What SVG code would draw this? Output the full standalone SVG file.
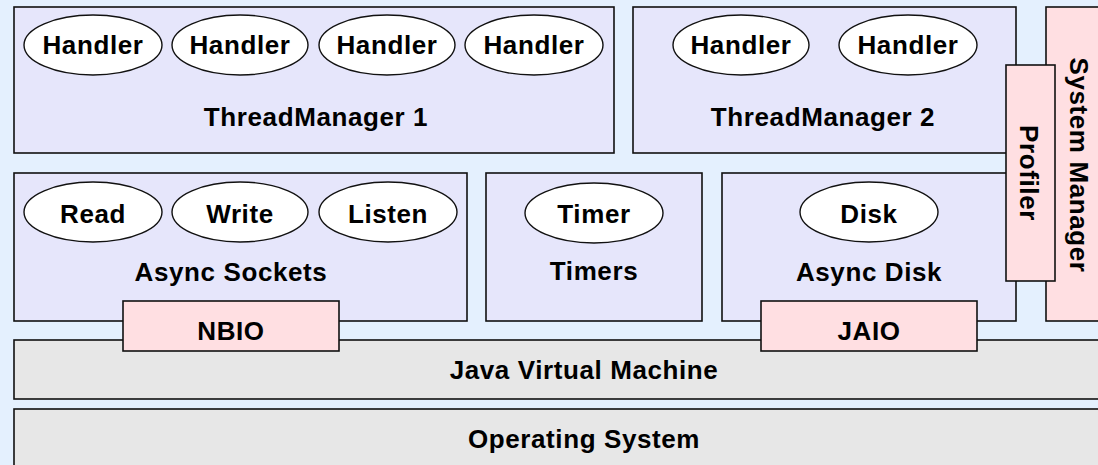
<svg xmlns="http://www.w3.org/2000/svg" width="1098" height="465" viewBox="0 0 1098 465">
  <style>
    .box { fill: #e6e6fb; stroke: #111; stroke-width: 1.6; }
    .pink { fill: #ffdfe2; stroke: #111; stroke-width: 1.6; }
    .base { fill: #e7e7e7; stroke: #111; stroke-width: 1.6; }
    .oval { fill: #ffffff; stroke: #111; stroke-width: 1.4; }
    text { font-family: "Liberation Sans", Arial, sans-serif; font-weight: bold; font-size: 26px; fill: #000; text-anchor: middle; letter-spacing: 0.6px; }
  </style>
  <rect width="1098" height="465" fill="#e4f0fe"/>

  <!-- platform layers -->
  <g id="os">
    <rect class="base" x="14" y="409" width="1100" height="70"/>
    <text x="584" y="448">Operating System</text>
  </g>
  <g id="jvm">
    <rect class="base" x="14" y="340" width="1100" height="59"/>
    <text x="584" y="379">Java Virtual Machine</text>
  </g>

  <!-- thread managers -->
  <g id="threadmanager1">
    <rect class="box" x="14" y="7" width="600" height="146"/>
    <ellipse class="oval" cx="93" cy="45" rx="69" ry="30"/>
    <text x="93" y="54">Handler</text>
    <ellipse class="oval" cx="240" cy="45" rx="68" ry="30"/>
    <text x="240" y="54">Handler</text>
    <ellipse class="oval" cx="387" cy="45" rx="68" ry="30"/>
    <text x="387" y="54">Handler</text>
    <ellipse class="oval" cx="534" cy="45" rx="69" ry="30"/>
    <text x="534" y="54">Handler</text>
    <text x="316" y="126">ThreadManager 1</text>
  </g>
  <g id="threadmanager2">
    <rect class="box" x="633" y="7" width="383" height="146"/>
    <ellipse class="oval" cx="741" cy="45" rx="68" ry="30"/>
    <text x="741" y="54">Handler</text>
    <ellipse class="oval" cx="908" cy="45" rx="69" ry="30"/>
    <text x="908" y="54">Handler</text>
    <text x="823" y="126">ThreadManager 2</text>
  </g>

  <!-- I/O subsystems -->
  <g id="async-sockets">
    <rect class="box" x="14" y="173" width="453" height="148"/>
    <ellipse class="oval" cx="93" cy="212" rx="69" ry="30"/>
    <text x="93" y="223">Read</text>
    <ellipse class="oval" cx="240" cy="212" rx="68" ry="30"/>
    <text x="240" y="223">Write</text>
    <ellipse class="oval" cx="388" cy="212" rx="69" ry="30"/>
    <text x="388" y="223">Listen</text>
    <text x="231" y="281">Async Sockets</text>
  </g>
  <g id="timers">
    <rect class="box" x="486" y="173" width="216" height="148"/>
    <ellipse class="oval" cx="594" cy="213" rx="69" ry="30"/>
    <text x="594" y="223">Timer</text>
    <text x="594" y="280">Timers</text>
  </g>
  <g id="async-disk">
    <rect class="box" x="722" y="173" width="294" height="148"/>
    <ellipse class="oval" cx="869" cy="212" rx="69" ry="30"/>
    <text x="869" y="223">Disk</text>
    <text x="869" y="281">Async Disk</text>
  </g>

  <!-- native bridges -->
  <g id="nbio">
    <rect class="pink" x="123" y="301" width="216" height="50"/>
    <text x="231" y="340">NBIO</text>
  </g>
  <g id="jaio">
    <rect class="pink" x="761" y="301" width="216" height="50"/>
    <text x="869" y="340">JAIO</text>
  </g>

  <!-- management -->
  <g id="system-manager">
    <rect class="pink" x="1046" y="7" width="70" height="314"/>
    <text transform="translate(1070,165) rotate(90)">System Manager</text>
  </g>
  <g id="profiler">
    <rect class="pink" x="1006" y="65" width="49" height="216"/>
    <text transform="translate(1020,173) rotate(90)">Profiler</text>
  </g>

  <g id="connectors"/>
</svg>
